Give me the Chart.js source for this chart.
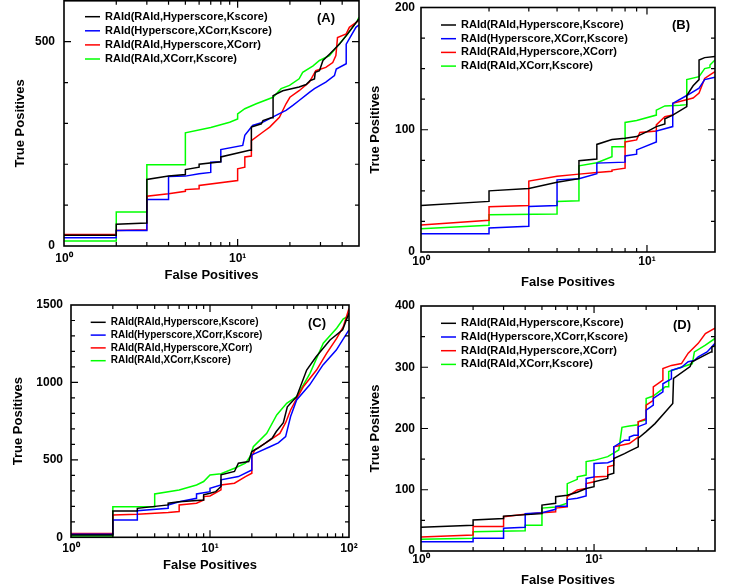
<!DOCTYPE html>
<html><head><meta charset="utf-8">
<script src="https://cdn.jsdelivr.net/npm/chart.js@4.4.1/dist/chart.umd.min.js"></script>
<style>
html,body{margin:0;padding:0;background:#fff;}
#wrap{position:relative;width:741px;height:588px;overflow:hidden;background:#fff;}
canvas{position:absolute;left:0;top:0;}
</style></head><body><div id="wrap">
<canvas id="cA" width="741" height="588"></canvas>
<canvas id="cB" width="741" height="588"></canvas>
<canvas id="cC" width="741" height="588"></canvas>
<canvas id="cD" width="741" height="588"></canvas>
</div>
<script>
// ---------- series names ----------
const seriesNames = ['RAId(RAId,Hyperscore,Kscore)', 'RAId(Hyperscore,XCorr,Kscore)', 'RAId(RAId,Hyperscore,XCorr)', 'RAId(RAId,XCorr,Kscore)'];
const seriesColors = ['#000000', '#0000ff', '#ff0000', '#00ff00'];
const panelLabels = ['(A)', '(B)', '(C)', '(D)'];
const xTitle = 'False Positives';
const yTitle = 'True Positives';

// ---------- Panel A ----------
const A_black_fp = [1,2,2,3,3,4,5,5,6,6,8,8,11.7,12,12,13.7,14,15.6,16,16,18.2,22.6,24.8,26.2,27.7,28,29.6,31,33.9,38.6,43,50];
const A_black_tp = [26,26,53,56,163,171,175,187,193,200,206,218,234,234,291,299,307,314,314,368,380,389,395,405,409,425,429,454,470,494,519,556];
const A_blue_fp = [1,2,2,3,3,4,4,5,6,7,7,8,8,10.7,11,12,12.2,14,17.4,19,20.8,22.6,25.9,27.7,32.2,36.1,37,42.2,42.2,48,50];
const A_blue_tp = [20,20,38,38,114,114,170,171,177,180,205,206,236,246,271,291,295,303,324,332,344,356,376,385,401,417,433,446,494,535,541];
const A_red_fp = [1,2,2,3,3,4,5,5,6,6,10,10,11,11,12,12,14,15.3,17.4,19,20,22.6,25.9,28.2,32.2,35.3,36.8,37.6,42.2,44,50];
const A_red_tp = [28,28,38,40,122,128,134,138,140,148,160,189,193,218,220,258,279,291,315,348,364,380,401,429,437,449,466,510,519,535,552];
const A_green_fp = [1,2,2,3,3,5,5,7,9,10,10,11,12.8,16,17.8,19.9,22.6,23.7,27.2,29.6,33.8,38.6,42.3,48.9,50];
const A_green_tp = [12,12,83,83,199,199,277,290,303,311,323,336,348,364,385,393,409,425,441,454,466,495,515,551,560];

// ---------- Panel B ----------
const B_black_fp = [1,2,2,3,4,5,5,6,6,7,8,9,10,11,12,12,13,15,15,16,17,17,18,20];
const B_black_tp = [38,41.4,50,52,57,60,74.6,76,88,92,93,94.4,98.5,102.6,104.8,109,112,119,128,136,141,157,159,160];
const B_blue_fp = [1,2,2,3,3,4,4,5,6,6,8,8,9,9,11,11,13,13,15,17,18,20];
const B_blue_tp = [15,15,19.6,21,37.3,38,59,60,64,72.7,73.5,78.6,80,83.5,90,99,102.6,121.6,128,134,141,143];
const B_red_fp = [1,2,2,3,3,4,5,6,7,7,8,8,9,9.3,11,11,12,13,13,16,17,18,19,20];
const B_red_tp = [22,26,37,38,58,62,63.7,65,66,67,68.6,90,91.7,97.7,99,104,110.7,112,121.6,126,130,142,144.8,147.5];
const B_green_fp = [1,2,2,4,4,5,5,6,7,7,8,8,9,11,11,12,14,15,15,17,18,19,19,20];
const B_green_tp = [19,21.8,30.5,31,41.4,42,70.5,73,78,86,86,106,107.5,112,116,119.5,120,120.5,141,143.4,150,151,153,157];

// ---------- Panel C ----------
const C_black_fp = [1,2,2,3,3,5,5,6,9,9,10,11,12,12,15,16,19,20,22,25,28,30,33.7,36,42,49.6,58,73,90,100];
const C_black_tp = [15,15,170,170,187,209,220,230,241,274,284,295,328,403,425,478,489,554,575,608,640,683,740,843,908,1080,1166,1274,1340,1448];
const C_blue_fp = [1,2,2,3,3,5,5,6,8,8,10,10,12,12,16,20,20,27,31,35,38,42,52,65,81,100];
const C_blue_tp = [19,19,112,112,172,187,209,230,252,280,295,317,338,371,392,435,532,585,610,650,780,887,983,1113,1209,1339];
const C_red_fp = [1,2,2,3,5,6,6,8,9,9,10,12,12,15,18,20,20,21,27,31.8,35,38,42,46.9,58.4,69,81.5,91,100];
const C_red_tp = [24,24,144,149,160,166,209,220,241,263,267,306,338,349,392,414,522,564,628,671,740,822,895,972,1080,1188,1285,1360,1478];
const C_green_fp = [1,2,2,4,4,6,8,9,10,12,15,18,19.4,20.5,25.6,30.2,35.6,42,52.4,65.3,81.5,91,100];
const C_green_tp = [9,9,198,198,280,306,338,360,403,410,446,478,520,585,671,790,865,908,1059,1253,1350,1410,1430];

// ---------- Panel D ----------
const D_black_fp = [1,2,2,3,3,5,5,6,6,7,8,9,10,10,12,12,13,13,15,16,18,18,20,22.5,25.8,28.5,28.8,35.9,36.8,47.5,48,50];
const D_black_tp = [38.6,42,50.5,53,57,61,75,78,88.6,91,96,102,105,113,118.5,124,127,151,159,163,170,184,195,208,227,241,282,301,309,325,333,335];
const D_blue_fp = [1,2,2,3,3,4,4,5,6,6,7,7,8,9,9,10,10,12,13,13,15,16,16,17,18,18,20,20,22,22,25,25,28,28,32,35,38,40,45,50];
const D_blue_tp = [15,15,20.7,21,37,38.6,61,62.5,68,73,73,84,86,90,118.5,121,143,144,148,170,181,181,186,189,189,203,208,230,238,249,260,273,281,295,300,309,311,317,325,339];
const D_red_fp = [1,2,2,3,3,4,5,6,6,7,7,8,9,9,10,10,12,12,13,13,16,18,18,20,20,22,22,25,25,28,32,35,40,44,50];
const D_red_tp = [23,26,40,40,56,60,62.5,64,70,72,88.6,99.5,102,110,113,121,122,137.5,140,170,175.5,186,211,216,238,246,268,279,298,303,306,323,339,355,364];
const D_green_fp = [1,2,2,4,4,5,5,6,7,7,8,8,9,9,10,12,13.9,14.5,16,18,18,20,20,22,25.8,27,27,37,38,44,50];
const D_green_tp = [19,20.7,31.5,33,42,42,70,72,78,110,117,121,124,146,148,154,165,202,204,206,211,214,249,253,268,268,293,306,325,336,347];

// ---------- axis ranges and ticks ----------
const xMaxes = [50, 20, 100, 50];
const yMaxes = [600, 200, 1500, 400];
const yMajorTicks = [[0, 500], [0, 100, 200], [0, 500, 1000, 1500], [0, 100, 200, 300, 400]];
const yMinorSteps = [100, 25, 100, 50];
const xMajorTicks = [1, 10, 100];

const panelSeries = [
  [[A_black_fp, A_black_tp], [A_blue_fp, A_blue_tp], [A_red_fp, A_red_tp], [A_green_fp, A_green_tp]],
  [[B_black_fp, B_black_tp], [B_blue_fp, B_blue_tp], [B_red_fp, B_red_tp], [B_green_fp, B_green_tp]],
  [[C_black_fp, C_black_tp], [C_blue_fp, C_blue_tp], [C_red_fp, C_red_tp], [C_green_fp, C_green_tp]],
  [[D_black_fp, D_black_tp], [D_blue_fp, D_blue_tp], [D_red_fp, D_red_tp], [D_green_fp, D_green_tp]]
];

// ---------- layout (positions / styles) ----------
const layouts = [
  {canvas:'cA', pad:{left:12.2, right:382, top:0.8, bottom:305.2}, yW:51.8, xH:36.8, yPad:9, xPad:5,
   leg:{x:85, y:16.7, dy:14.1, size:11}, lab:{x:326, y:18}},
  {canvas:'cB', pad:{left:367.2, right:26, top:7.5, bottom:297.5}, yW:53.8, xH:38.5, yPad:6, xPad:2,
   leg:{x:441, y:25, dy:13.7, size:11}, lab:{x:681, y:25}},
  {canvas:'cC', pad:{left:10.2, right:392, top:305, bottom:14.5}, yW:60.8, xH:36.2, yPad:8, xPad:4,
   leg:{x:90.7, y:322.3, dy:12.8, size:10}, lab:{x:317, y:323}},
  {canvas:'cD', pad:{left:367.2, right:26, top:306, bottom:0.2}, yW:53.8, xH:36.8, yPad:6, xPad:1,
   leg:{x:441, y:323.3, dy:13.7, size:11}, lab:{x:682, y:325}}
];

const FONT = '"Liberation Sans", Arial, Helvetica, sans-serif';
const SUP = ['\u2070', '\u00B9', '\u00B2', '\u00B3'];

function zeroPad(s) { s.paddingTop = 0; s.paddingBottom = 0; s.paddingLeft = 0; s.paddingRight = 0; }

const framePlugin = {
  id: 'frame',
  afterDatasetsDraw(chart, args, o) {
    const ctx = chart.ctx;
    const {left, right, top, bottom} = chart.chartArea;
    const xs = chart.scales.x, ys = chart.scales.y;
    ctx.save();
    ctx.strokeStyle = '#000';
    ctx.lineWidth = 1.2;
    ctx.beginPath();
    for (let v = ys.min + o.yMinor; v < ys.max - 1e-9; v += o.yMinor) {
      const p = ys.getPixelForValue(v);
      const major = o.yMajors.indexOf(v) >= 0;
      const len = major ? 7 : 4;
      ctx.moveTo(left, p); ctx.lineTo(left + len, p);
      ctx.moveTo(right, p); ctx.lineTo(right - len, p);
    }
    for (let e = 0; Math.pow(10, e) <= xs.max; e++) {
      for (let k = 1; k <= 9; k++) {
        const v = k * Math.pow(10, e);
        if (v <= xs.min || v >= xs.max) continue;
        const p = xs.getPixelForValue(v);
        const len = k === 1 ? 7 : 4;
        ctx.moveTo(p, bottom); ctx.lineTo(p, bottom - len);
        ctx.moveTo(p, top); ctx.lineTo(p, top + len);
      }
    }
    ctx.stroke();
    ctx.lineWidth = 1.6;
    ctx.strokeRect(left, top, right - left, bottom - top);

    // legend
    const L = o.leg;
    ctx.font = 'bold ' + L.size + 'px ' + FONT;
    ctx.textBaseline = 'middle';
    ctx.textAlign = 'left';
    chart.data.datasets.forEach((ds, i) => {
      const y = L.y + i * L.dy;
      ctx.strokeStyle = ds.borderColor;
      ctx.lineWidth = 1.5;
      ctx.beginPath();
      ctx.moveTo(L.x, y); ctx.lineTo(L.x + 15, y);
      ctx.stroke();
      ctx.fillStyle = '#000';
      ctx.fillText(ds.label, L.x + 20, y);
    });
    // panel label
    ctx.font = 'bold 13px ' + FONT;
    ctx.textAlign = 'center';
    ctx.fillStyle = '#000';
    ctx.fillText(o.label, o.lab.x, o.lab.y);
    ctx.restore();
  }
};

layouts.forEach((lay, pi) => {
  const datasets = panelSeries[pi].map((s, si) => ({
    label: seriesNames[si],
    data: s[0].map((x, i) => ({x: x, y: s[1][i]})),
    borderColor: seriesColors[si],
    borderWidth: 1.5,
    pointRadius: 0,
    tension: 0,
    fill: false
  }));
  const xMax = xMaxes[pi];
  new Chart(document.getElementById(lay.canvas), {
    type: 'line',
    data: {datasets: datasets},
    plugins: [framePlugin],
    options: {
      responsive: false,
      animation: false,
      events: [],
      layout: {padding: lay.pad},
      plugins: {
        legend: {display: false},
        tooltip: {enabled: false},
        frame: {yMinor: yMinorSteps[pi], yMajors: yMajorTicks[pi], leg: lay.leg, lab: lay.lab, label: panelLabels[pi]}
      },
      scales: {
        x: {
          type: 'logarithmic', position: 'bottom', min: 1, max: xMax,
          afterBuildTicks: s => { s.ticks = xMajorTicks.filter(v => v <= xMax).map(v => ({value: v})); },
          afterFit: s => { s.height = lay.xH; zeroPad(s); },
          grid: {display: false, drawTicks: false},
          border: {display: false},
          ticks: {autoSkip: false, maxRotation: 0, minRotation: 0, padding: lay.xPad, color: '#000',
                  font: {family: FONT, size: 12, weight: 'bold'},
                  callback: v => '10' + SUP[Math.round(Math.log10(v))]},
          title: {display: true, text: xTitle, color: '#000', padding: 0,
                  font: {family: FONT, size: 13, weight: 'bold'}}
        },
        y: {
          type: 'linear', position: 'left', min: 0, max: yMaxes[pi],
          afterBuildTicks: s => { s.ticks = yMajorTicks[pi].map(v => ({value: v})); },
          afterFit: s => { s.width = lay.yW; zeroPad(s); },
          grid: {display: false, drawTicks: false},
          border: {display: false},
          ticks: {autoSkip: false, padding: lay.yPad, color: '#000',
                  font: {family: FONT, size: 12, weight: 'bold'},
                  callback: v => String(v)},
          title: {display: true, text: yTitle, color: '#000', padding: 0,
                  font: {family: FONT, size: 13, weight: 'bold'}}
        }
      }
    }
  });
});
</script>
</body></html>
